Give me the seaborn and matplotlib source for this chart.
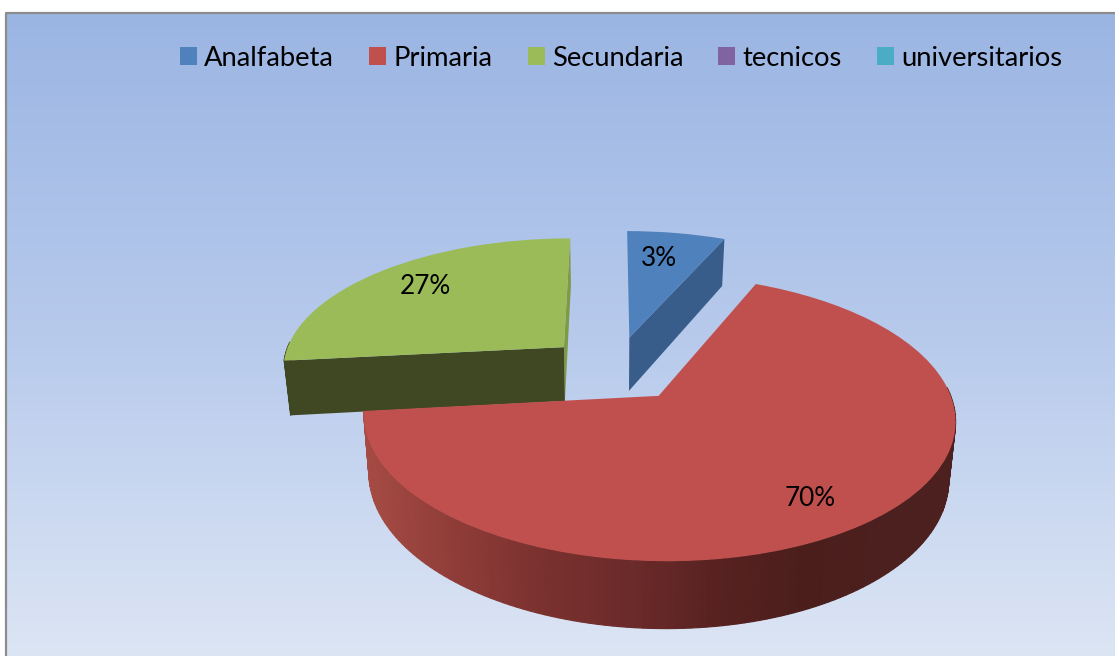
import numpy as np
import matplotlib
matplotlib.use("Agg")
import matplotlib.pyplot as plt
import seaborn as sns
from matplotlib.patches import PathPatch, Rectangle
from matplotlib.path import Path

# --- data ---
categories = ["Analfabeta", "Primaria", "Secundaria", "tecnicos", "universitarios"]
# printed labels, and the slice sizes as they are actually drawn in the picture
pct_labels = ["3%", "70%", "27%"]
drawn_shares = [6.6, 66.7, 26.7]

office_colors = ["#4F81BD", "#C0504D", "#9BBB59", "#8064A2", "#4BACC6"]
face_colors = ["#385D8A", "#4A1E1C", "#3F4723"]

sns.set_theme(style="white")
plt.rcParams["font.family"] = ["Lato", "DejaVu Sans"]
palette = sns.color_palette(office_colors)

fig = plt.figure(figsize=(11.15, 6.56), dpi=100)
ax = fig.add_axes([0, 0, 1, 1])

# --- flat pie first, it gives the wedges that get tilted below ---
wedges, _ = ax.pie(
    drawn_shares,
    explode=[0.25] * 3,
    startangle=90,
    counterclock=False,
    colors=palette[:3],
)

# --- camera: disc is seen from above, with a vanishing point behind it ---
van_x, van_y = 612, -500
width_px, height_px = 292.5, 897
persp = 0.156
origin_u, origin_v = 0.012, 0.21
depth_px, depth_shrink = 57, 0.98


def project(pts, lower=False):
    pts = np.asarray(pts)
    d = 1 / (1 + persp * (pts[:, 1] + origin_v))
    x = van_x + width_px * (pts[:, 0] + origin_u) * d
    y = van_y + height_px * d
    if lower:
        x = van_x + (x - van_x) * depth_shrink
        y = y + depth_px * d
    return np.column_stack([x, y])


def extrude(ax, pts, color, zorder, lw=0.0):
    top, low = project(pts), project(pts, lower=True)
    ax.fill(
        [top[0, 0], top[1, 0], low[1, 0], low[0, 0]],
        [top[0, 1], top[1, 1], low[1, 1], low[0, 1]],
        facecolor=color, edgecolor=color, linewidth=lw, zorder=zorder,
    )


# the red rim runs from a lighter left side to a dark right side
rim_cmap = sns.blend_palette(
    ["#A54B44", "#8F3C38", "#7A312F", "#6B2B2A", "#582221", "#4B1E1C", "#4C201E"], as_cmap=True
)

# draw back to front
for rank, idx in enumerate([2, 0, 1]):
    w = wedges[idx]
    center = np.array(w.center)
    z = 3 + rank
    angles = np.radians(np.linspace(w.theta1, w.theta2, 181))
    rim = center + w.r * np.column_stack([np.cos(angles), np.sin(angles)])

    # cut faces, only the ones turned towards the viewer
    if idx == 0:
        extrude(ax, [center, rim[0]], face_colors[idx], z)
    if idx == 2:
        extrude(ax, [center, rim[0]], "#7E9A47", z)
        extrude(ax, [center, rim[-1]], face_colors[idx], z)

    # outer rim, front half only
    for a, b, ang in zip(rim[:-1], rim[1:], angles[:-1]):
        if np.sin(ang) > 0.05:
            continue
        if idx == 1:
            pos = (project([a])[0, 0] - 365) / 590
            col = rim_cmap(np.clip(pos * 1.13, 0, 1))
        else:
            col = face_colors[idx]
        extrude(ax, [a, b], col, z, lw=0.8)

    # top face
    path = w.get_path()
    verts = w.get_patch_transform().transform(path.vertices)
    ax.add_patch(PathPatch(Path(project(verts), path.codes),
                           facecolor=palette[idx], edgecolor="none", zorder=z + 0.5))
    w.remove()

ax.set_aspect("auto")

# --- background and frame ---
bg_cmap = sns.blend_palette(["#9BB5E3", "#B7CAEC", "#DCE5F4"], as_cmap=True)
ax.imshow(np.linspace(0, 1, 256)[:, None], extent=(7, 1115, 656, 14), cmap=bg_cmap,
          aspect="auto", zorder=0)
ax.plot([6, 6, 1115], [656, 13, 13], color="#8C8C8C", linewidth=1.6, zorder=1)
ax.set_xlim(0, 1115)
ax.set_ylim(656, 0)
ax.axis("off")

# --- labels ---
for label, (lx, ly) in zip(pct_labels, [(659, 258), (810, 499), (425, 286)]):
    ax.text(lx, ly, label, fontsize=18.8, color="black", ha="center", va="center", zorder=10)

handles = [Rectangle((0, 0), 1, 1, facecolor=c, edgecolor="none") for c in palette]
ax.legend(
    handles, categories,
    ncol=5, loc="center left", bbox_to_anchor=(180, 58), bbox_transform=ax.transData,
    frameon=False, fontsize=19.7, labelcolor="black", borderpad=0, borderaxespad=0,
    handlelength=0.62, handleheight=0.62, handletextpad=0.27, columnspacing=1.28,
)

fig.savefig("out.png", dpi=100)
